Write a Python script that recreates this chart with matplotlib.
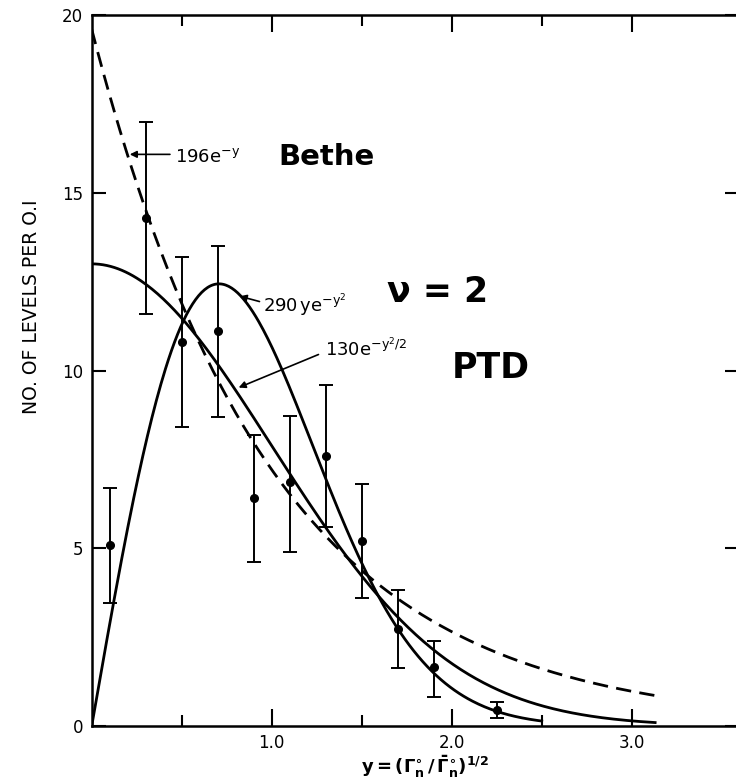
import numpy as np
import matplotlib
matplotlib.use("Agg")
import matplotlib.pyplot as plt
from matplotlib.ticker import FixedLocator

plt.rcParams['font.family'] = ['DejaVu Sans']
plt.rcParams['mathtext.default'] = 'regular'

# Données mesurées (nombre de niveaux par intervalle de 0.1)
y_pts = [0.1, 0.3, 0.5, 0.7, 0.9, 1.1, 1.3, 1.5, 1.7, 1.9, 2.25]
n_pts = [5.1, 14.3, 10.8, 11.1, 6.4, 6.85, 7.6, 5.2, 2.73, 1.66, 0.45]
n_hi = [6.7, 17.0, 13.2, 13.5, 8.2, 8.73, 9.6, 6.82, 3.83, 2.39, 0.68]
n_lo = [3.45, 11.6, 8.42, 8.7, 4.6, 4.9, 5.6, 3.6, 1.63, 0.82, 0.23]

bin_width = 0.1
c_bethe = 196
c_nu2 = 290
c_ptd = 130
y_end_bethe = 3.15
y_end_nu2 = 2.5
y_end_ptd = 3.13

fig = plt.figure(figsize=(7.36, 7.82), dpi=100)
# la bordure droite est juste hors de l'image, comme sur le scan
ax = fig.add_axes([0.1246, 0.0716, 0.8795, 0.9092])

yb = np.linspace(0, y_end_bethe, 300)
ax.plot(yb, c_bethe * bin_width * np.exp(-yb), color='black', lw=2, dashes=(5.5, 3))
yn = np.linspace(0, y_end_nu2, 300)
ax.plot(yn, c_nu2 * bin_width * yn * np.exp(-yn**2), color='black', lw=2)
yp = np.linspace(0, y_end_ptd, 300)
ax.plot(yp, c_ptd * bin_width * np.exp(-yp**2 / 2), color='black', lw=2)

err = [np.array(n_pts) - np.array(n_lo), np.array(n_hi) - np.array(n_pts)]
ax.errorbar(y_pts, n_pts, yerr=err, fmt='o', color='black', ms=5.5,
            elinewidth=1.4, capsize=5, capthick=1.4)

# Annotations
ax.annotate('', xy=(0.196, 16.08), xytext=(0.45, 16.08),
            arrowprops=dict(arrowstyle='-|>', color='black', lw=1.2, mutation_scale=10))
ax.text(0.463, 15.86, r'$196e^{-y}$', fontsize=13, va='baseline')
ax.text(1.035, 15.77, 'Bethe', fontsize=21, fontweight='bold', va='baseline')

ax.annotate('', xy=(0.807, 12.11), xytext=(0.947, 11.92),
            arrowprops=dict(arrowstyle='-|>', color='black', lw=1.2, mutation_scale=10))
ax.text(0.952, 11.63, r'$290\,ye^{-y^2}$', fontsize=13, va='baseline')
ax.text(1.64, 11.92, r'ν = 2', fontsize=25, fontweight='bold', va='baseline')

ax.annotate('', xy=(0.802, 9.49), xytext=(1.274, 10.48),
            arrowprops=dict(arrowstyle='-|>', color='black', lw=1.2, mutation_scale=10))
ax.text(1.296, 10.39, r'$130e^{-y^2/2}$', fontsize=13, va='baseline')
ax.text(2.0, 9.8, 'PTD', fontsize=25, fontweight='bold', va='baseline')

# Axes
ax.set_xlim(0, 3.596)
ax.set_ylim(0, 20)
ax.set_xticks([1.0, 2.0, 3.0])
ax.set_xticklabels(['1.0', '2.0', '3.0'])
ax.xaxis.set_minor_locator(FixedLocator([0.5, 1.5, 2.5]))
ax.set_yticks([0, 5, 10, 15, 20])
ax.set_yticklabels(['0', '5', '10', '15', '20'])
ax.tick_params(axis='x', which='major', direction='in', length=12, width=1.5,
               top=True, labelsize=12, pad=6)
ax.tick_params(axis='x', which='minor', direction='in', length=8, width=1.5, top=True)
ax.tick_params(axis='y', which='major', direction='in', length=10, width=1.5,
               right=True, labelsize=12, pad=6)
for s in ax.spines.values():
    s.set_linewidth(1.8)

ax.text(-0.093, 0.59, 'NO. OF LEVELS PER O.I', rotation=90, transform=ax.transAxes,
        ha='center', va='center', fontsize=13.5)
ax.text(0.515, -0.058, r'$\mathbf{y = (\Gamma_n^{\circ}\,/\,\bar{\Gamma}_n^{\circ})^{1/2}}$',
        transform=ax.transAxes, ha='center', va='center', fontsize=13)

fig.savefig('out.png', dpi=100)
